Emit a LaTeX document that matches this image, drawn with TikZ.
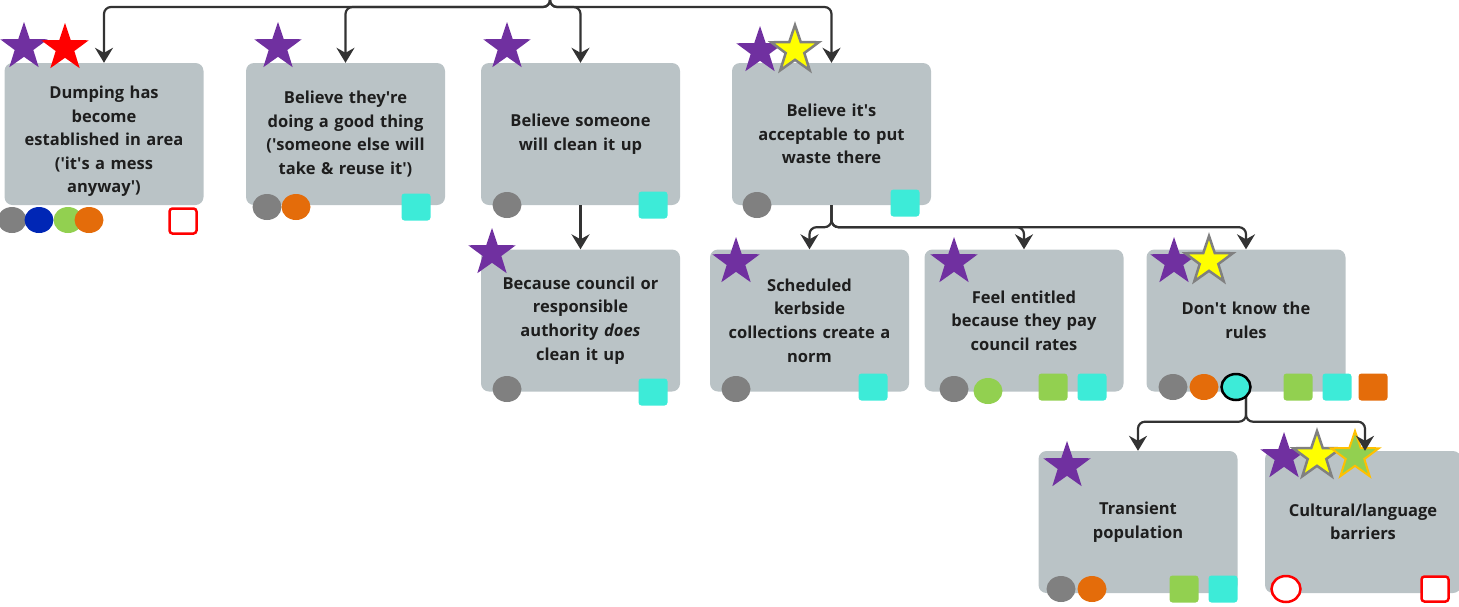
\documentclass[tikz,border=0pt]{standalone}
\usepackage{fontspec}
\setmainfont{Open Sans}
\usetikzlibrary{shapes.geometric,arrows.meta}
\definecolor{boxfill}{HTML}{BAC3C6}
\definecolor{txtc}{HTML}{1E1E1E}
\definecolor{linec}{HTML}{333333}
\definecolor{cpurple}{HTML}{7030A0}
\definecolor{cred}{HTML}{FF0000}
\definecolor{cyellow}{HTML}{FFFF00}
\definecolor{cgreen}{HTML}{92D050}
\definecolor{cgoldline}{HTML}{FFC000}
\definecolor{cgray}{HTML}{808080}
\definecolor{cblue}{HTML}{0026B5}
\definecolor{corange}{HTML}{E46C0A}
\definecolor{ccyan}{HTML}{3DEBD8}
\newcommand{\aq}{\textquotesingle}
\begin{document}
\begin{tikzpicture}[x=1pt,y=-1pt,
  box/.style={rectangle, rounded corners=8pt, fill=boxfill, minimum width=199pt,
    minimum height=142pt, inner sep=0pt, text width=194pt, align=center,
    text=txtc, font=\bfseries\fontsize{16.5}{23.6}\selectfont},
  txt/.style={inner sep=0pt, text width=194pt, align=center,
    text=txtc, font=\bfseries\fontsize{16.5}{23.6}\selectfont},
  conn/.style={draw=linec, line width=2.2pt, rounded corners=7pt,
    -{Stealth[length=15pt,width=18pt,inset=5pt]}},
  starmk/.style={star, star points=5, star point ratio=2.55, minimum size=50pt, inner sep=0pt},
  stP/.style={starmk, fill=cpurple},
  stR/.style={starmk, fill=cred},
  stY/.style={starmk, fill=cyellow, draw=cgray, line width=2.5pt},
  stG/.style={starmk, fill=cgreen, draw=cgoldline, line width=2pt},
  dotmk/.style={ellipse, minimum width=29pt, minimum height=26pt, inner sep=0pt},
  dG/.style={dotmk, fill=cgray},
  dB/.style={dotmk, fill=cblue},
  dGr/.style={dotmk, fill=cgreen},
  dO/.style={dotmk, fill=corange},
  dC/.style={dotmk, fill=ccyan},
  dCo/.style={dotmk, fill=ccyan, draw=black, line width=2.5pt},
  dRing/.style={dotmk, fill=white, draw=cred, line width=2.5pt},
  sqmk/.style={rectangle, rounded corners=3pt, minimum width=29pt, minimum height=27pt, inner sep=0pt},
  sC/.style={sqmk, fill=ccyan},
  sGr/.style={sqmk, fill=cgreen},
  sO/.style={sqmk, fill=corange},
  sRing/.style={sqmk, fill=white, draw=cred, line width=2.5pt, minimum width=27pt, minimum height=25pt}
]
\useasboundingbox (0,0) rectangle (1459,606);

% boxes
\node[box] (b1) at (104,134) {};
\node[txt] (t1) at (104,141.5) {Dumping has\\become\\established in area\\(\aq it\aq s a mess\\anyway\aq)};
\node[box] (b2) at (345.5,134) {Believe they\aq re\\doing a good thing\\(\aq someone else will\\take \& reuse it\aq)};
\node[box] (b3) at (580.5,134) {Believe someone\\will clean it up};
\node[box] (b4) at (831.5,134) {Believe it\aq s\\acceptable to put\\waste there};
\node[box] (b5) at (580.5,320.5) {Because council or\\responsible\\authority \textit{does}\\clean it up};
\node[box] (b6) at (809.5,320.5) {Scheduled\\kerbside\\collections create a\\norm};
\node[box] (b7) at (1024,320.5) {Feel entitled\\because they pay\\council rates};
\node[box] (b8) at (1246,320.5) {Don\aq t know the\\rules};
\node[box] (b9) at (1138,522) {Transient\\population};
\node[box, minimum width=196pt] (b10) at (1363,522) {Cultural/language\\barriers};

% stars
\node[stP] (s1a) at (24,47) {};
\node[stR] (s1b) at (65,48) {};
\node[stP] (s2a) at (278,47) {};
\node[stP] (s3a) at (507,47) {};
\node[stP] (s4a) at (760,51) {};
\node[stY] (s4b) at (795,50) {};
\node[stP] (s5a) at (492,253) {};
\node[stP] (s6a) at (736,262) {};
\node[stP] (s7a) at (954,262) {};
\node[stP] (s8a) at (1174,262) {};
\node[stY] (s8b) at (1209,261) {};
\node[stP] (s9a) at (1067,466) {};
\node[stP] (s10a) at (1284,457) {};
\node[stY] (s10b) at (1317,456) {};
\node[stG] (s10c) at (1355,456) {};

% connectors
\coordinate (src) at (550,-2);
\draw[conn] (src) -- ++(0,9) -| (b1.north);
\draw[conn] (src) -- ++(0,9) -| (b2.north);
\draw[conn] (src) -- ++(0,9) -| (b3.north);
\draw[conn] (src) -- ++(0,9) -| (b4.north);
\draw[conn] (b3.south) -- (b5.north);
\draw[conn] (b4.south) -- ++(0,22) -| (b6.north);
\draw[conn] (b4.south) -- ++(0,22) -| (b7.north);
\draw[conn] (b4.south) -- ++(0,22) -| (b8.north);
\draw[conn] (b8.south) -- ++(0,30) -| (b9.north);
\draw[conn] (b8.south) -- ++(0,30) -| ([xshift=2pt]b10.north);

% dots and squares
\node[dG] (m1a) at (12,220) {};
\node[dB] (m1b) at (39,220) {};
\node[dGr] (m1c) at (68,220) {};
\node[dO] (m1d) at (89,220) {};
\node[sRing] (m1e) at (183,221) {};

\node[dG] (m2a) at (267,207) {};
\node[dO] (m2b) at (296,207) {};
\node[sC] (m2c) at (416,207) {};

\node[dG] (m3a) at (507,205) {};
\node[sC] (m3b) at (653,205) {};

\node[dG] (m4a) at (757,205) {};
\node[sC] (m4b) at (905,203) {};

\node[dG] (m5a) at (507,389) {};
\node[sC] (m5b) at (653,392) {};

\node[dG] (m6a) at (736,389) {};
\node[sC] (m6b) at (873,387) {};

\node[dG] (m7a) at (954,389) {};
\node[dGr] (m7b) at (988,391) {};
\node[sGr] (m7c) at (1053,387) {};
\node[sC] (m7d) at (1092,387) {};

\node[dG] (m8a) at (1173,387) {};
\node[dO] (m8b) at (1204,387) {};
\node[dCo] (m8c) at (1236,387) {};
\node[sGr] (m8d) at (1298,387) {};
\node[sC] (m8e) at (1337,387) {};
\node[sO] (m8f) at (1373,387) {};

\node[dG] (m9a) at (1061,589) {};
\node[dO] (m9b) at (1092,589) {};
\node[sGr] (m9c) at (1184,589) {};
\node[sC] (m9d) at (1223,589) {};

\node[dRing] (m10a) at (1286,589) {};
\node[sRing] (m10b) at (1435,589) {};
\end{tikzpicture}
\end{document}
